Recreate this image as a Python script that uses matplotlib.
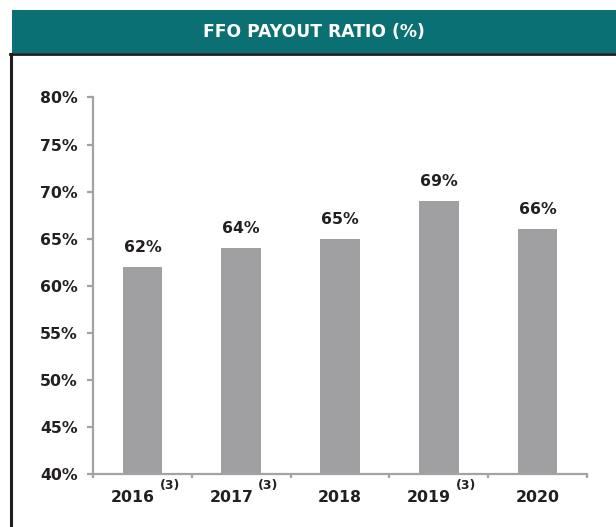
import matplotlib
matplotlib.use("Agg")
import matplotlib.pyplot as plt
from matplotlib.patches import Rectangle
from matplotlib.lines import Line2D

years = ["2016", "2017", "2018", "2019", "2020"]
footnotes = ["(3)", "(3)", "", "(3)", ""]
values = [62, 64, 65, 69, 66]
yticks = [40, 45, 50, 55, 60, 65, 70, 75, 80]
title = "FFO PAYOUT RATIO (%)"

W, H = 616, 527
fig = plt.figure(figsize=(W / 100, H / 100), dpi=100)
plt.rcParams['font.family'] = ['DejaVu Sans']

text_c = "#231f20"
gray = "#a3a3a5"
bar_c = "#a0a0a2"
teal = "#0b7074"
fs = 11.3

# Banner
fig.patches.append(Rectangle((12 / W, 1 - 53 / H), 1 - 12 / W, 43 / H,
                             transform=fig.transFigure, facecolor=teal,
                             edgecolor="none", zorder=0))
fig.text((12 + W) / 2 / W, 1 - 32 / H, title, color="white", fontsize=12.3,
         fontweight="bold", ha="center", va="center")
# Frame lines
fig.lines.append(Line2D([10 / W, 1], [1 - 54 / H, 1 - 54 / H], transform=fig.transFigure,
                        color="#1e1e1e", lw=2.0))
fig.lines.append(Line2D([11 / W, 11 / W], [0, 1 - 54 / H], transform=fig.transFigure,
                        color="#1e1e1e", lw=2.2))

ax = fig.add_axes([93 / W, 1 - 474 / H, (587 - 93) / W, (474 - 97.5) / H])
x = list(range(len(years)))
ax.bar(x, [v - 40 for v in values], bottom=40, width=0.4, color=bar_c, zorder=2)
ax.set_xlim(-0.5, len(years) - 0.5)
ax.set_ylim(40, 80)

for s in ["top", "right"]:
    ax.spines[s].set_visible(False)
for s in ["left", "bottom"]:
    ax.spines[s].set_color(gray)
    ax.spines[s].set_linewidth(1.6)

ax.set_yticks(yticks)
ax.set_yticklabels([f"{t}%" for t in yticks], fontsize=fs, fontweight="bold", color=text_c)
ax.tick_params(axis="y", direction="out", length=4, width=1.6, color=gray, pad=7)
ax.set_xticks([i - 0.5 for i in range(len(years) + 1)], minor=True)
ax.set_xticks([])
ax.tick_params(axis="x", which="minor", direction="out", length=3, width=1.6, color=gray)

for i, (yr, fn, v) in enumerate(zip(years, footnotes, values)):
    ax.annotate(f"{v}%", xy=(i, v), xytext=(0, 12), textcoords="offset pixels",
                ha="center", va="bottom", fontsize=fs, fontweight="bold", color=text_c)
    if fn:
        ax.annotate(yr, xy=(i, 0), xycoords=("data", "axes fraction"),
                    xytext=(-10, -23), textcoords="offset pixels",
                    ha="center", va="center", fontsize=fs, fontweight="bold", color=text_c)
        ax.annotate(fn, xy=(i, 0), xycoords=("data", "axes fraction"),
                    xytext=(17, -12), textcoords="offset pixels",
                    ha="left", va="center", fontsize=9, fontweight="bold", color=text_c)
    else:
        ax.annotate(yr, xy=(i, 0), xycoords=("data", "axes fraction"),
                    xytext=(0, -23), textcoords="offset pixels",
                    ha="center", va="center", fontsize=fs, fontweight="bold", color=text_c)

fig.savefig("out.png", dpi=100, facecolor="white")
